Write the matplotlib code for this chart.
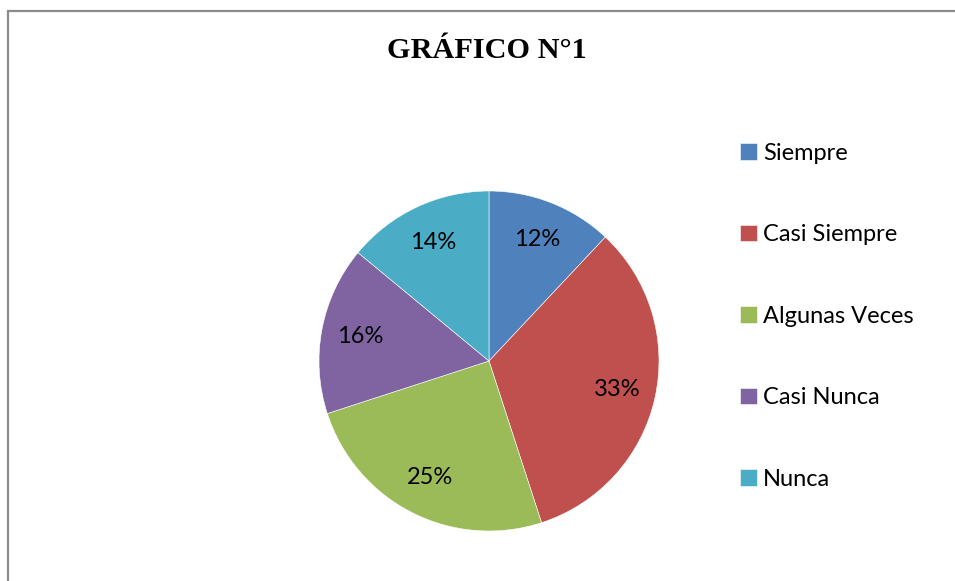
import matplotlib.pyplot as plt
from matplotlib.patches import Rectangle

categories = ['Siempre', 'Casi Siempre', 'Algunas Veces', 'Casi Nunca', 'Nunca']
values = [12, 33, 25, 16, 14]
colors = ['#4F81BD', '#C0504D', '#9BBB59', '#8064A2', '#4BACC6']
title = 'GRÁFICO N°1'

W, H = 955, 581
fig = plt.figure(figsize=(W / 100, H / 100), dpi=100)
fig.patch.set_facecolor('white')

# outer chart frame (right/bottom edges run off the picture)
fig.add_artist(Rectangle((8 / W, -0.1), 1.2, 1.1 - 11 / H, transform=fig.transFigure,
                         fill=False, edgecolor='#8c8c8c', linewidth=1.6))

# pie centred at (489, 361) px, radius 170 px
cx, cy, r = 489, 361, 170
ax = fig.add_axes([(cx - r) / W, (H - cy - r) / H, 2 * r / W, 2 * r / H])
wedges, texts, autotexts = ax.pie(
    values, colors=colors, startangle=90, counterclock=False,
    autopct='%1.0f%%', pctdistance=0.77,
    wedgeprops=dict(edgecolor='white', linewidth=0.4),
    textprops=dict(fontsize=17, family='Lato', color='black'))
ax.set_xlim(-1, 1)
ax.set_ylim(-1, 1)
ax.set_aspect('equal')

fig.text(487 / W, 1 - 50 / H, title, ha='center', va='center',
         fontsize=21.8, fontweight='bold', family='Liberation Serif')

fig.legend(wedges, categories, loc='upper left', bbox_to_anchor=(740 / W, 1 - 143 / H),
           frameon=False, prop=dict(family='Lato', size=17),
           labelspacing=2.56, handlelength=0.7, handleheight=0.7,
           handletextpad=0.28, borderpad=0, borderaxespad=0)

fig.savefig('out.png', dpi=100)
